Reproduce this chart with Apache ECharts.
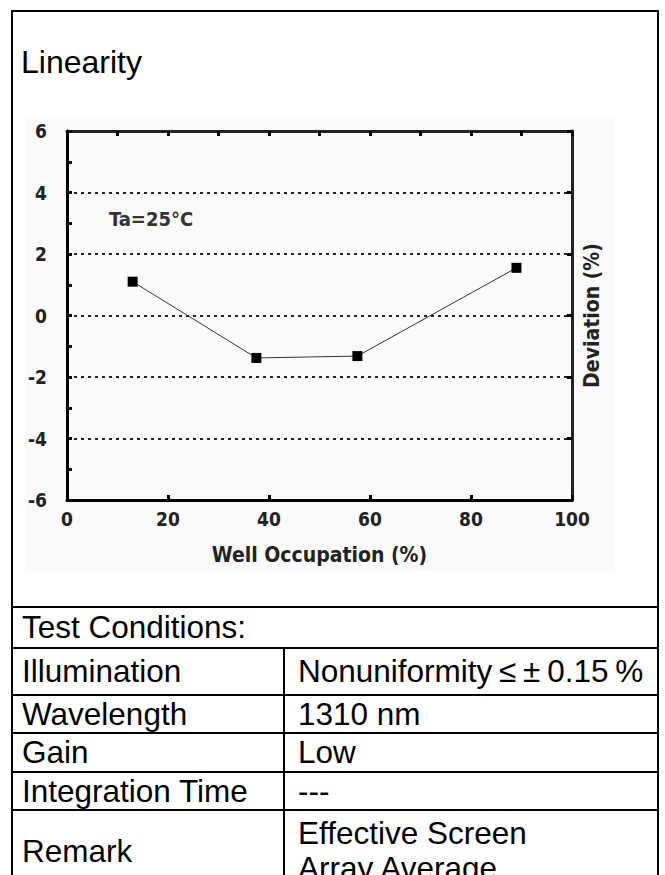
<!DOCTYPE html>
<html>
<head>
<meta charset="utf-8">
<script src="https://cdn.jsdelivr.net/npm/echarts@6/dist/echarts.min.js"></script>
<style>
  html, body { margin: 0; padding: 0; background: #fff; }
  #page { position: relative; width: 665px; height: 875px; overflow: hidden; }
  #frame {
    position: absolute; left: 11px; top: 10px; width: 644px; height: 900px;
    border: 2px solid #000;
  }
  #linearity-chart { position: absolute; left: 0; top: 0; width: 665px; height: 607px; }
  table.cond {
    position: absolute; left: 11px; top: 606px; width: 648px;
    border-collapse: collapse; font-family: "Liberation Sans", Arial, sans-serif;
    font-size: 31.5px; color: #000;
  }
  table.cond td { border: 2px solid #000; padding: 0 0 0 9px; line-height: 35px; white-space: nowrap; }
  table.cond td.val { padding-left: 13px; }
  table.cond td.tight { word-spacing: -2px; }
</style>
</head>
<body>
<div id="page">
  <div id="frame"></div>
  <div id="linearity-chart"></div>
  <table class="cond">
    <tr style="height:41px"><td colspan="2">Test Conditions:</td></tr>
    <tr style="height:47px"><td style="width:261px">Illumination</td><td class="val tight">Nonuniformity ≤ ± 0.15 %</td></tr>
    <tr style="height:38px"><td>Wavelength</td><td class="val">1310 nm</td></tr>
    <tr style="height:39px"><td>Gain</td><td class="val">Low</td></tr>
    <tr style="height:38px"><td>Integration Time</td><td class="val">---</td></tr>
    <tr style="height:82px"><td>Remark</td><td class="val">Effective Screen<br>Array Average</td></tr>
  </table>
</div>
<script>
// well occupation (%) vs deviation (%)
var occupation = [13, 37.5, 57.5, 89];
var deviation = [1.1, -1.38, -1.32, 1.55];
var yTicks = [-6, -4, -2, 0, 2, 4, 6];

function renderLinearity() {
  var chartDom = document.getElementById("linearity-chart");
  var myChart = echarts.init(chartDom, null, { renderer: "svg" });
  var option;
  var labelFont = "'Liberation Sans Narrow', 'DejaVu Sans Condensed', sans-serif";

  var points = occupation.map(function (x, i) {
    return [x, deviation[i]];
  });

  option = {
    animation: false,
    title: {
      text: "Linearity",
      left: 16,
      top: 41,
      textStyle: {
        fontFamily: "'Liberation Sans', Arial, sans-serif",
        fontSize: 32,
        fontWeight: "normal",
        color: "#000",
      },
    },
    graphic: [
      {
        type: "rect",
        left: 25,
        top: 117,
        shape: { width: 590, height: 455 },
        style: { fill: "#fafafa" },
        z: -10,
      },
      {
        type: "text",
        left: 109,
        top: 209,
        style: {
          text: "Ta=25°C",
          fontFamily: labelFont,
          fontWeight: "bold",
          fontSize: 20,
          fill: "#333",
        },
      },
    ],
    grid: {
      left: 67,
      right: 93,
      top: 131,
      bottom: 107,
    },
    xAxis: [
      {
        type: "value",
        min: 0,
        max: 100,
        interval: 20,
        name: "Well Occupation (%)",
        nameLocation: "middle",
        nameGap: 44,
        nameTextStyle: {
          fontFamily: labelFont,
          fontWeight: "bold",
          fontSize: 21,
          color: "#222",
        },
        axisLine: { onZero: false, lineStyle: { color: "#000", width: 3 } },
        axisTick: {
          inside: true,
          length: 5,
          lineStyle: { color: "#000", width: 3 },
        },
        axisLabel: {
          margin: 9,
          fontFamily: labelFont,
          fontWeight: "bold",
          fontSize: 19,
          color: "#222",
        },
        splitLine: { show: false },
      },
      {
        type: "value",
        position: "top",
        min: 0,
        max: 100,
        interval: 10,
        axisLine: { onZero: false, lineStyle: { color: "#222", width: 3 } },
        axisTick: {
          inside: true,
          length: 5,
          lineStyle: { color: "#000", width: 3 },
        },
        axisLabel: { show: false },
        splitLine: { show: false },
      },
    ],
    yAxis: [
      {
        type: "value",
        min: yTicks[0],
        max: yTicks[yTicks.length - 1],
        interval: 2,
        axisLine: { onZero: false, lineStyle: { color: "#000", width: 3 } },
        axisTick: {
          inside: true,
          length: 5,
          lineStyle: { color: "#000", width: 3 },
        },
        minorTick: {
          show: true,
          splitNumber: 2,
          length: 5,
          lineStyle: { color: "#000", width: 3 },
        },
        axisLabel: {
          margin: 20,
          fontFamily: labelFont,
          fontWeight: "bold",
          fontSize: 19,
          color: "#222",
        },
        splitLine: {
          show: true,
          lineStyle: { color: "#222", width: 2, type: [3, 4] },
        },
      },
      {
        type: "value",
        position: "right",
        min: yTicks[0],
        max: yTicks[yTicks.length - 1],
        interval: 2,
        name: "Deviation (%)",
        nameLocation: "middle",
        nameRotate: 90,
        nameGap: 9,
        nameTextStyle: {
          fontFamily: labelFont,
          fontWeight: "bold",
          fontSize: 21,
          color: "#222",
        },
        axisLine: { onZero: false, lineStyle: { color: "#222", width: 3 } },
        axisTick: {
          inside: true,
          length: 5,
          lineStyle: { color: "#000", width: 3 },
        },
        axisLabel: { show: false },
        splitLine: { show: false },
      },
    ],
    series: [
      {
        type: "line",
        data: points,
        symbol: "rect",
        symbolSize: 10,
        itemStyle: { color: "#000" },
        lineStyle: { color: "#333", width: 1 },
      },
    ],
  };

  option && myChart.setOption(option);
}
renderLinearity();
</script>
</body>
</html>
